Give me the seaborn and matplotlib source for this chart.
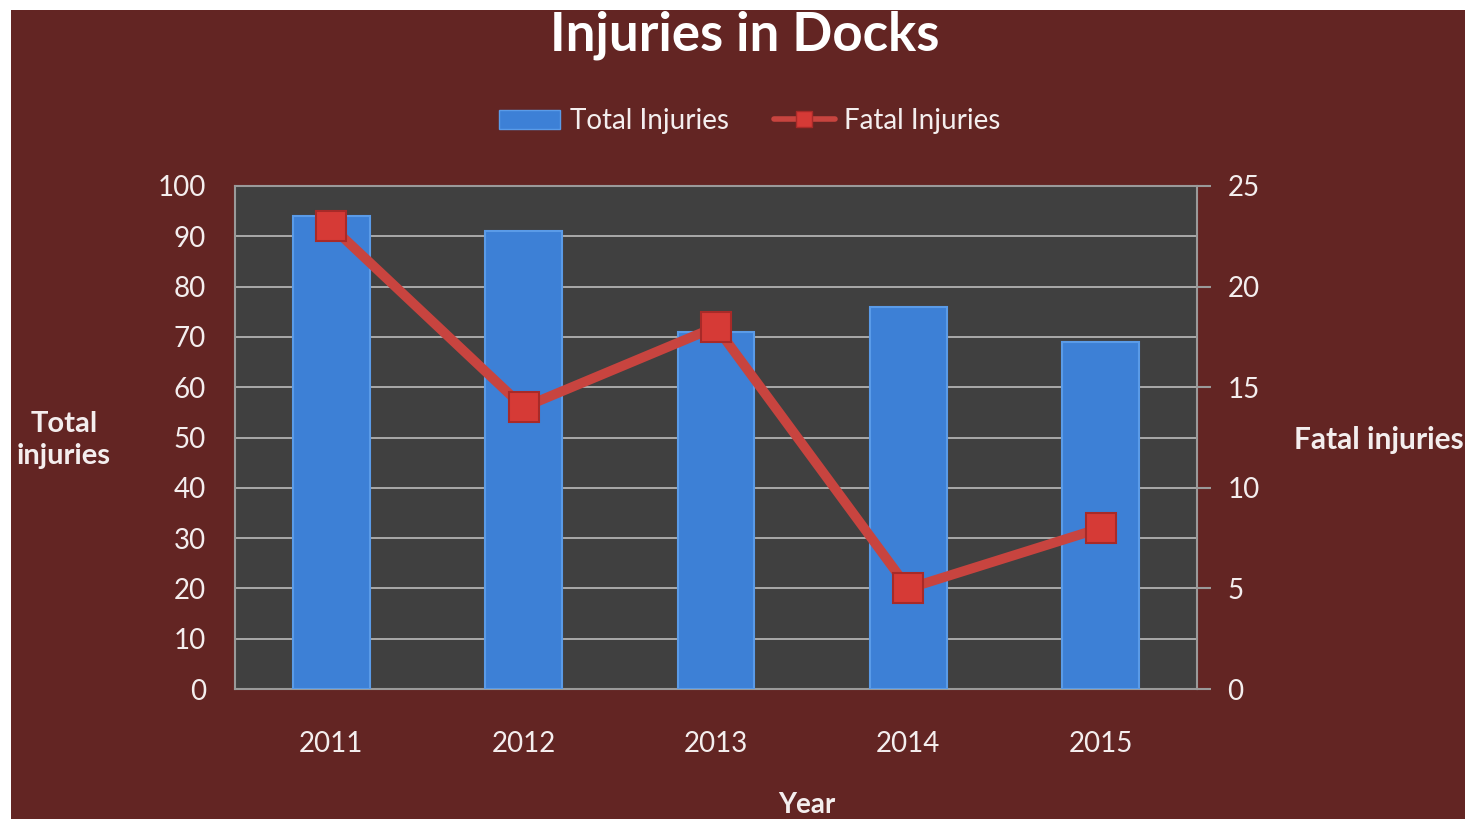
import matplotlib
matplotlib.use("Agg")
import matplotlib.pyplot as plt
import seaborn as sns
import numpy as np
import pandas as pd
from matplotlib.patches import Rectangle, Patch
from matplotlib.lines import Line2D

years = ["2011", "2012", "2013", "2014", "2015"]
total_injuries = [94, 91, 71, 76, 69]
fatal_injuries = [23, 14, 18, 5, 8]
left_ticks = [0, 10, 20, 30, 40, 50, 60, 70, 80, 90, 100]
right_ticks = [0, 5, 10, 15, 20, 25]

sns.set_style("white")
plt.rcParams['font.family'] = ['Lato', 'DejaVu Sans']

BG = "#632523"
PLOT_BG = "#404040"
TXT = "#f4eeee"
BAR = "#3d80d6"
LINE = "#c8443f"

fig = plt.figure(figsize=(14.7, 8.19), dpi=100, facecolor="white")
fig.patches.append(Rectangle((11/1470, 0), (1465-11)/1470, 1 - 10/819,
                             transform=fig.transFigure, facecolor=BG,
                             edgecolor="none", zorder=-10))

ax = fig.add_axes([235/1470, 1 - 689/819, (1197-235)/1470, (689-186)/819])
ax.set_facecolor(PLOT_BG)

df = pd.DataFrame({"year": years, "total": total_injuries, "fatal": fatal_injuries})
sns.barplot(data=df, x="year", y="total", color=BAR, width=0.4,
            saturation=1, edgecolor="#5a9be8", linewidth=1.5, ax=ax, zorder=3)

ax.set_ylim(0, 100)
ax.set_yticks(left_ticks)
ax.yaxis.grid(True, color="#a9a9a9", linewidth=1.4, zorder=0)
ax.set_axisbelow(True)
for s in ax.spines.values():
    s.set_color("#9a9a9a")
    s.set_linewidth(1.5)
ax.tick_params(axis="y", colors=TXT, labelsize=20, length=0, pad=21)
ax.tick_params(axis="x", colors=TXT, labelsize=20, length=0, pad=30)
for lab in ax.get_yticklabels() + ax.get_xticklabels():
    lab.set_color(TXT)
ax.set_xlabel("")
ax.set_ylabel("")

ax2 = ax.twinx()
pos = np.arange(len(years))
sns.lineplot(x=pos, y=fatal_injuries, ax=ax2, color=LINE, linewidth=7,
             marker="s", markersize=22, markerfacecolor="#d63a36",
             markeredgecolor="#a82a28", markeredgewidth=1.5, zorder=5)
ax2.set_ylim(0, 25)
ax2.set_yticks(right_ticks)
ax2.tick_params(axis="y", colors="#9a9a9a", labelcolor=TXT, labelsize=20,
                length=10, width=1.5, pad=12)
for s in ax2.spines.values():
    s.set_visible(False)
ax2.set_xlim(-0.5, 4.5)

fig.text(745/1470, 1 - 35/819, "Injuries in Docks", ha="center", va="center",
         fontsize=38, fontweight="bold", color="white")
fig.text(64/1470, 1 - 440/819, "Total\ninjuries", ha="center", va="center",
         fontsize=21, fontweight="bold", color=TXT, linespacing=1.3)
fig.text(1379/1470, 1 - 440/819, "Fatal injuries", ha="center", va="center",
         fontsize=21.5, fontweight="bold", color=TXT)
fig.text(807/1470, 1 - 805/819, "Year", ha="center", va="center",
         fontsize=20, fontweight="bold", color=TXT)

handles = [Patch(facecolor=BAR, edgecolor="#5a9be8"),
           Line2D([0], [0], color=LINE, linewidth=4, marker="s", markersize=11,
                  markerfacecolor="#d63a36", markeredgecolor="#a82a28")]
fig.legend(handles, ["Total Injuries", "Fatal Injuries"], loc="center",
           bbox_to_anchor=(750/1470, 1 - 121/819), ncol=2, frameon=False,
           fontsize=20, labelcolor=TXT, handlelength=2.2, handleheight=0.7,
           columnspacing=1.6, handletextpad=0.35)

fig.savefig("out.png", dpi=100, facecolor="white")
